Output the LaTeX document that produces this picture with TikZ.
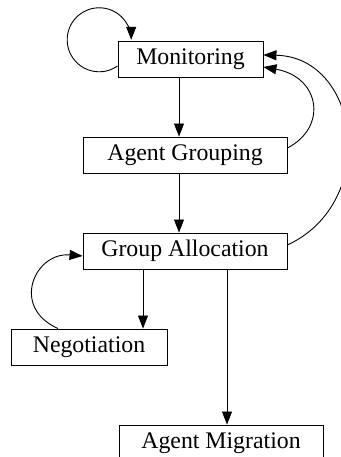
\documentclass[tikz,border=0pt]{standalone}
\usepackage{fontspec}
\setmainfont{Liberation Serif}
\usetikzlibrary{arrows.meta}
\begin{document}
\begin{tikzpicture}[x=1pt,y=1pt,
  box/.style={draw,line width=0.9pt,inner sep=0pt,minimum height=36pt,
    font=\fontsize{23.8}{28}\selectfont},
  arr/.style={line width=0.9pt,-{Triangle[length=13pt,width=10pt]}}]
\useasboundingbox (0,0) rectangle (340,457);
\node[box,minimum width=145pt] (mon) at (190.5,398) {Monitoring};
\node[box,minimum width=204pt] (grp) at (185,302) {Agent Grouping};
\node[box,minimum width=204pt] (gal) at (185,206) {Group Allocation};
\node[box,minimum width=156pt] (neg) at (89,110) {Negotiation};
\node[box,minimum width=204pt] (mig) at (221,14) {Agent Migration};
\coordinate (xa) at (179,0);
\coordinate (xb) at (143,0);
\coordinate (xc) at (227,0);
\draw[arr] (mon.south -| xa) -- (grp.north -| xa);
\draw[arr] (grp.south -| xa) -- (gal.north -| xa);
\draw[arr] (gal.south -| xb) -- (neg.north -| xb);
\draw[arr] (gal.south -| xc) -- (mig.north -| xc);
\draw[arr] ([yshift=-7pt]mon.west) arc[start angle=-55,end angle=-360,radius=32pt];
\draw[arr] ([yshift=7pt]grp.east) .. controls (328,330) and (320,380) .. ([yshift=-8pt]mon.east);
\draw[arr] ([yshift=6pt]gal.east) .. controls (380,255) and (360,400) .. ([yshift=4pt]mon.east);
\draw[arr] ([xshift=-31pt]neg.north) .. controls (10,150) and (35,205) .. ([yshift=-5pt]gal.west);
\end{tikzpicture}
\end{document}
